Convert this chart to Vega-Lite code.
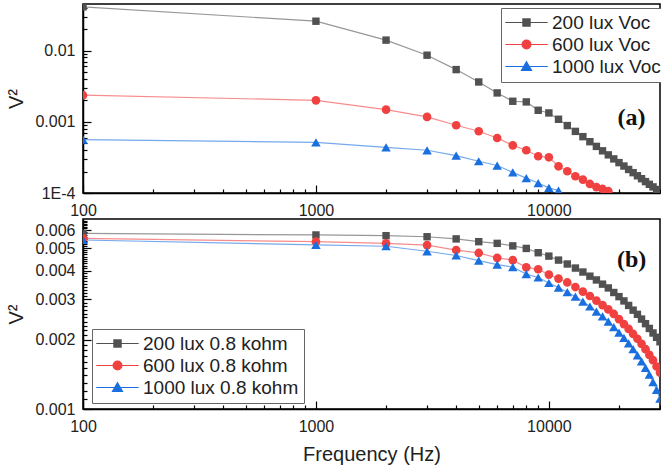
{
  "$schema": "https://vega.github.io/schema/vega-lite/v6.json",
  "padding": {"left": 6, "top": 3, "right": 0, "bottom": 0},
  "spacing": -3,
  "background": "white",
  "config": {
    "font": "Liberation Sans",
    "view": {"stroke": "black", "strokeWidth": 1.5},
    "axis": {
      "labelFont": "Liberation Sans", "labelColor": "#222",
      "titleFont": "Liberation Sans", "titleFontSize": 20, "titleFontWeight": "normal", "titleColor": "#222",
      "domainColor": "black", "domainWidth": 1.5, "tickColor": "black", "tickWidth": 1.2,
      "grid": false, "labelOverlap": false, "labelFlush": false
    },
    "legend": {
      "labelFont": "Liberation Sans", "labelFontSize": 19, "labelColor": "#222",
      "strokeColor": "#666", "fillColor": "white", "padding": 5, "rowPadding": 2,
      "symbolSize": 64, "symbolOffset": 11, "labelOffset": 16, "symbolOpacity": 1,
      "symbolStrokeWidth": 1.2
    }
  },
  "datasets": {
    "a": [
      {"f":100,"v":0.041,"s":"200 lux Voc"},{"f":1000,"v":0.0258,"s":"200 lux Voc"},{"f":2000,"v":0.0140,"s":"200 lux Voc"},{"f":3000,"v":0.0086,"s":"200 lux Voc"},{"f":4000,"v":0.0054,"s":"200 lux Voc"},{"f":5000,"v":0.00362,"s":"200 lux Voc"},{"f":6000,"v":0.00254,"s":"200 lux Voc"},{"f":7000,"v":0.00194,"s":"200 lux Voc"},{"f":8000,"v":0.00190,"s":"200 lux Voc"},{"f":9000,"v":0.00145,"s":"200 lux Voc"},{"f":10000,"v":0.00133,"s":"200 lux Voc"},{"f":11000,"v":0.001084,"s":"200 lux Voc"},{"f":12000,"v":0.000884,"s":"200 lux Voc"},{"f":13000,"v":0.000733,"s":"200 lux Voc"},{"f":14000,"v":0.000618,"s":"200 lux Voc"},{"f":15000,"v":0.000525,"s":"200 lux Voc"},{"f":16000,"v":0.000451,"s":"200 lux Voc"},{"f":17000,"v":0.000391,"s":"200 lux Voc"},{"f":18000,"v":0.000343,"s":"200 lux Voc"},{"f":19000,"v":0.000301,"s":"200 lux Voc"},{"f":20000,"v":0.000267,"s":"200 lux Voc"},{"f":21000,"v":0.000239,"s":"200 lux Voc"},{"f":22000,"v":0.000214,"s":"200 lux Voc"},{"f":23000,"v":0.000193,"s":"200 lux Voc"},{"f":24000,"v":0.0001745,"s":"200 lux Voc"},{"f":25000,"v":0.0001588,"s":"200 lux Voc"},{"f":26000,"v":0.0001445,"s":"200 lux Voc"},{"f":27000,"v":0.0001325,"s":"200 lux Voc"},{"f":28000,"v":0.0001218,"s":"200 lux Voc"},{"f":29000,"v":0.000112,"s":"200 lux Voc"},{"f":30000,"v":0.0001036,"s":"200 lux Voc"},
      {"f":100,"v":0.00236,"s":"600 lux Voc"},{"f":1000,"v":0.00200,"s":"600 lux Voc"},{"f":2000,"v":0.00148,"s":"600 lux Voc"},{"f":3000,"v":0.00117,"s":"600 lux Voc"},{"f":4000,"v":0.000893,"s":"600 lux Voc"},{"f":5000,"v":0.000736,"s":"600 lux Voc"},{"f":6000,"v":0.000592,"s":"600 lux Voc"},{"f":7000,"v":0.000467,"s":"600 lux Voc"},{"f":8000,"v":0.000398,"s":"600 lux Voc"},{"f":9000,"v":0.000328,"s":"600 lux Voc"},{"f":10000,"v":0.000317,"s":"600 lux Voc"},{"f":11000,"v":0.000237,"s":"600 lux Voc"},{"f":12000,"v":0.000202,"s":"600 lux Voc"},{"f":13000,"v":0.000172,"s":"600 lux Voc"},{"f":14000,"v":0.000154,"s":"600 lux Voc"},{"f":15000,"v":0.000134,"s":"600 lux Voc"},{"f":16000,"v":0.000121,"s":"600 lux Voc"},{"f":17000,"v":0.000114,"s":"600 lux Voc"},{"f":18000,"v":0.000106,"s":"600 lux Voc"},
      {"f":100,"v":0.000562,"s":"1000 lux Voc"},{"f":1000,"v":0.000515,"s":"1000 lux Voc"},{"f":2000,"v":0.000438,"s":"1000 lux Voc"},{"f":3000,"v":0.000398,"s":"1000 lux Voc"},{"f":4000,"v":0.000335,"s":"1000 lux Voc"},{"f":5000,"v":0.000279,"s":"1000 lux Voc"},{"f":6000,"v":0.000243,"s":"1000 lux Voc"},{"f":7000,"v":0.000195,"s":"1000 lux Voc"},{"f":8000,"v":0.000162,"s":"1000 lux Voc"},{"f":9000,"v":0.000138,"s":"1000 lux Voc"},{"f":10000,"v":0.000118,"s":"1000 lux Voc"},{"f":11000,"v":0.000108,"s":"1000 lux Voc"}
    ],
    "b": [
      {"f":100,"v":0.00580,"s":"200 lux 0.8 kohm"},{"f":1000,"v":0.00571,"s":"200 lux 0.8 kohm"},{"f":2000,"v":0.00567,"s":"200 lux 0.8 kohm"},{"f":3000,"v":0.00561,"s":"200 lux 0.8 kohm"},{"f":4000,"v":0.00549,"s":"200 lux 0.8 kohm"},{"f":5000,"v":0.00534,"s":"200 lux 0.8 kohm"},{"f":6000,"v":0.00525,"s":"200 lux 0.8 kohm"},{"f":7000,"v":0.00512,"s":"200 lux 0.8 kohm"},{"f":8000,"v":0.00499,"s":"200 lux 0.8 kohm"},{"f":9000,"v":0.00478,"s":"200 lux 0.8 kohm"},{"f":10000,"v":0.00462,"s":"200 lux 0.8 kohm"},{"f":11000,"v":0.00444,"s":"200 lux 0.8 kohm"},{"f":12000,"v":0.00427,"s":"200 lux 0.8 kohm"},{"f":13000,"v":0.00410,"s":"200 lux 0.8 kohm"},{"f":14000,"v":0.00394,"s":"200 lux 0.8 kohm"},{"f":15000,"v":0.00378,"s":"200 lux 0.8 kohm"},{"f":16000,"v":0.00364,"s":"200 lux 0.8 kohm"},{"f":17000,"v":0.00349,"s":"200 lux 0.8 kohm"},{"f":18000,"v":0.00336,"s":"200 lux 0.8 kohm"},{"f":19000,"v":0.00321,"s":"200 lux 0.8 kohm"},{"f":20000,"v":0.00308,"s":"200 lux 0.8 kohm"},{"f":21000,"v":0.00295,"s":"200 lux 0.8 kohm"},{"f":22000,"v":0.00282,"s":"200 lux 0.8 kohm"},{"f":23000,"v":0.00269,"s":"200 lux 0.8 kohm"},{"f":24000,"v":0.00258,"s":"200 lux 0.8 kohm"},{"f":25000,"v":0.00246,"s":"200 lux 0.8 kohm"},{"f":26000,"v":0.00235,"s":"200 lux 0.8 kohm"},{"f":27000,"v":0.00224,"s":"200 lux 0.8 kohm"},{"f":28000,"v":0.00214,"s":"200 lux 0.8 kohm"},{"f":29000,"v":0.00205,"s":"200 lux 0.8 kohm"},{"f":30000,"v":0.00196,"s":"200 lux 0.8 kohm"},
      {"f":100,"v":0.00552,"s":"600 lux 0.8 kohm"},{"f":1000,"v":0.00534,"s":"600 lux 0.8 kohm"},{"f":2000,"v":0.00525,"s":"600 lux 0.8 kohm"},{"f":3000,"v":0.00516,"s":"600 lux 0.8 kohm"},{"f":4000,"v":0.00491,"s":"600 lux 0.8 kohm"},{"f":5000,"v":0.00477,"s":"600 lux 0.8 kohm"},{"f":6000,"v":0.00454,"s":"600 lux 0.8 kohm"},{"f":7000,"v":0.00444,"s":"600 lux 0.8 kohm"},{"f":8000,"v":0.00413,"s":"600 lux 0.8 kohm"},{"f":9000,"v":0.00405,"s":"600 lux 0.8 kohm"},{"f":10000,"v":0.00384,"s":"600 lux 0.8 kohm"},{"f":11000,"v":0.00369,"s":"600 lux 0.8 kohm"},{"f":12000,"v":0.00355,"s":"600 lux 0.8 kohm"},{"f":13000,"v":0.00339,"s":"600 lux 0.8 kohm"},{"f":14000,"v":0.00324,"s":"600 lux 0.8 kohm"},{"f":15000,"v":0.00310,"s":"600 lux 0.8 kohm"},{"f":16000,"v":0.00296,"s":"600 lux 0.8 kohm"},{"f":17000,"v":0.00283,"s":"600 lux 0.8 kohm"},{"f":18000,"v":0.00271,"s":"600 lux 0.8 kohm"},{"f":19000,"v":0.00259,"s":"600 lux 0.8 kohm"},{"f":20000,"v":0.00246,"s":"600 lux 0.8 kohm"},{"f":21000,"v":0.00234,"s":"600 lux 0.8 kohm"},{"f":22000,"v":0.00223,"s":"600 lux 0.8 kohm"},{"f":23000,"v":0.00212,"s":"600 lux 0.8 kohm"},{"f":24000,"v":0.00202,"s":"600 lux 0.8 kohm"},{"f":25000,"v":0.00192,"s":"600 lux 0.8 kohm"},{"f":26000,"v":0.00182,"s":"600 lux 0.8 kohm"},{"f":27000,"v":0.00172,"s":"600 lux 0.8 kohm"},{"f":28000,"v":0.00163,"s":"600 lux 0.8 kohm"},{"f":29000,"v":0.00153,"s":"600 lux 0.8 kohm"},{"f":30000,"v":0.00144,"s":"600 lux 0.8 kohm"},
      {"f":100,"v":0.00543,"s":"1000 lux 0.8 kohm"},{"f":1000,"v":0.00517,"s":"1000 lux 0.8 kohm"},{"f":2000,"v":0.00510,"s":"1000 lux 0.8 kohm"},{"f":3000,"v":0.00485,"s":"1000 lux 0.8 kohm"},{"f":4000,"v":0.00465,"s":"1000 lux 0.8 kohm"},{"f":5000,"v":0.00442,"s":"1000 lux 0.8 kohm"},{"f":6000,"v":0.00424,"s":"1000 lux 0.8 kohm"},{"f":7000,"v":0.00414,"s":"1000 lux 0.8 kohm"},{"f":8000,"v":0.00386,"s":"1000 lux 0.8 kohm"},{"f":9000,"v":0.00373,"s":"1000 lux 0.8 kohm"},{"f":10000,"v":0.00353,"s":"1000 lux 0.8 kohm"},{"f":11000,"v":0.00337,"s":"1000 lux 0.8 kohm"},{"f":12000,"v":0.00322,"s":"1000 lux 0.8 kohm"},{"f":13000,"v":0.00308,"s":"1000 lux 0.8 kohm"},{"f":14000,"v":0.00293,"s":"1000 lux 0.8 kohm"},{"f":15000,"v":0.00279,"s":"1000 lux 0.8 kohm"},{"f":16000,"v":0.00265,"s":"1000 lux 0.8 kohm"},{"f":17000,"v":0.00253,"s":"1000 lux 0.8 kohm"},{"f":18000,"v":0.00240,"s":"1000 lux 0.8 kohm"},{"f":19000,"v":0.00227,"s":"1000 lux 0.8 kohm"},{"f":20000,"v":0.00215,"s":"1000 lux 0.8 kohm"},{"f":21000,"v":0.00204,"s":"1000 lux 0.8 kohm"},{"f":22000,"v":0.00193,"s":"1000 lux 0.8 kohm"},{"f":23000,"v":0.00182,"s":"1000 lux 0.8 kohm"},{"f":24000,"v":0.00171,"s":"1000 lux 0.8 kohm"},{"f":25000,"v":0.00161,"s":"1000 lux 0.8 kohm"},{"f":26000,"v":0.00151,"s":"1000 lux 0.8 kohm"},{"f":27000,"v":0.00141,"s":"1000 lux 0.8 kohm"},{"f":28000,"v":0.00131,"s":"1000 lux 0.8 kohm"},{"f":29000,"v":0.00121,"s":"1000 lux 0.8 kohm"},{"f":30000,"v":0.00111,"s":"1000 lux 0.8 kohm"}
    ]
  },
  "vconcat": [
    {
      "width": 577, "height": 189,
      "layer": [
        {"data": {"name": "a"},
         "mark": {"type": "line", "strokeWidth": 1.2, "opacity": 0.6, "clip": true},
         "encoding": {
           "x": {"field": "f", "type": "quantitative",
             "scale": {"type": "log", "domain": [100, 30000], "nice": false},
             "axis": {"title": null,
               "values": [100,200,300,400,500,600,700,800,900,1000,2000,3000,4000,5000,6000,7000,8000,9000,10000,20000,30000],
               "labelExpr": "datum.value==100?'100':datum.value==1000?'1000':datum.value==10000?'10000':''",
               "labelFontSize": {"condition": {"test": "datum.value==100||datum.value==1000||datum.value==10000", "value": 16}, "value": 0},
               "tickSize": {"condition": {"test": "datum.value==100||datum.value==1000||datum.value==10000", "value": -8}, "value": -4},
               "labelPadding": 17}},
           "y": {"field": "v", "type": "quantitative",
             "scale": {"type": "log", "domain": [0.0001, 0.045], "nice": false},
             "axis": {"title": "V²", "titlePadding": 8,
               "values": [0.0001,0.0002,0.0003,0.0004,0.0005,0.0006,0.0007,0.0008,0.0009,0.001,0.002,0.003,0.004,0.005,0.006,0.007,0.008,0.009,0.01,0.02,0.03,0.04],
               "labelExpr": "datum.value==0.0001?'1E-4':datum.value==0.001?'0.001':datum.value==0.01?'0.01':''",
               "labelFontSize": {"condition": {"test": "datum.value==0.0001||datum.value==0.001||datum.value==0.01", "value": 16}, "value": 0},
               "tickSize": {"condition": {"test": "datum.value==0.0001||datum.value==0.001||datum.value==0.01", "value": -8}, "value": -4},
               "labelPadding": 16}},
           "color": {"field": "s", "type": "nominal",
             "scale": {"domain": ["200 lux Voc", "600 lux Voc", "1000 lux Voc"], "range": ["#515151", "#F14040", "#1A6FDF"]},
             "legend": {"title": null, "orient": "none", "legendX": 418, "legendY": 4,
               "symbolType": {"expr": "indexof(datum.value,'200')==0?'M-5.3,0H5.3M-0.9,-0.9H0.9V0.9H-0.9Z':indexof(datum.value,'600')==0?'M-5.3,0H5.3M1.1,0A1.1,1.1,0,1,1,-1.1,0A1.1,1.1,0,1,1,1.1,0Z':'M-5.3,0H5.3M0,-1.2L1.25,0.95H-1.25Z'"},
               "symbolStrokeColor": {"expr": "indexof(datum.value,'200')==0?'#515151':indexof(datum.value,'600')==0?'#F14040':'#1A6FDF'"},
               "symbolFillColor": {"expr": "indexof(datum.value,'200')==0?'#515151':indexof(datum.value,'600')==0?'#F14040':'#1A6FDF'"}}}}},
        {"data": {"name": "a"}, "transform": [{"filter": "datum.s=='200 lux Voc'"}],
         "mark": {"type": "point", "shape": "square", "filled": true, "size": 55, "opacity": 1, "clip": true, "color": "#515151"},
         "encoding": {"x": {"field": "f", "type": "quantitative"}, "y": {"field": "v", "type": "quantitative"}}},
        {"data": {"name": "a"}, "transform": [{"filter": "datum.s=='600 lux Voc'"}],
         "mark": {"type": "point", "shape": "circle", "filled": true, "size": 75, "opacity": 1, "clip": true, "color": "#F14040"},
         "encoding": {"x": {"field": "f", "type": "quantitative"}, "y": {"field": "v", "type": "quantitative"}}},
        {"data": {"name": "a"}, "transform": [{"filter": "datum.s=='1000 lux Voc'"}],
         "mark": {"type": "point", "shape": "triangle-up", "filled": true, "size": 90, "opacity": 1, "clip": true, "color": "#1A6FDF"},
         "encoding": {"x": {"field": "f", "type": "quantitative"}, "y": {"field": "v", "type": "quantitative"}}},
        {"data": {"values": [{"t": "(a)"}]},
         "mark": {"type": "text", "font": "Liberation Serif", "fontWeight": "bold", "fontSize": 24, "fill": "#111", "align": "center", "baseline": "middle"},
         "encoding": {"x": {"datum": 22650, "type": "quantitative"}, "y": {"datum": 0.00112, "type": "quantitative"}, "text": {"field": "t"}}}
      ]
    },
    {
      "width": 577, "height": 190,
      "layer": [
        {"data": {"name": "b"},
         "mark": {"type": "line", "strokeWidth": 1.2, "opacity": 0.6, "clip": true},
         "encoding": {
           "x": {"field": "f", "type": "quantitative",
             "scale": {"type": "log", "domain": [100, 30000], "nice": false},
             "axis": {"title": "Frequency (Hz)", "titlePadding": 10,
               "values": [100,200,300,400,500,600,700,800,900,1000,2000,3000,4000,5000,6000,7000,8000,9000,10000,20000,30000],
               "labelExpr": "datum.value==100?'100':datum.value==1000?'1000':datum.value==10000?'10000':''",
               "labelFontSize": {"condition": {"test": "datum.value==100||datum.value==1000||datum.value==10000", "value": 16}, "value": 0},
               "tickSize": {"condition": {"test": "datum.value==100||datum.value==1000||datum.value==10000", "value": -8}, "value": -4},
               "labelPadding": 17}},
           "y": {"field": "v", "type": "quantitative",
             "scale": {"type": "log", "domain": [0.001, 0.0067], "nice": false},
             "axis": {"title": "V²", "titlePadding": 8,
               "values": [0.001,0.0011,0.0012,0.0013,0.0014,0.0015,0.0016,0.0017,0.0018,0.0019,0.002,0.0021,0.0022,0.0023,0.0024,0.0025,0.0026,0.0027,0.0028,0.0029,0.003,0.0031,0.0032,0.0033,0.0034,0.0035,0.0036,0.0037,0.0038,0.0039,0.004,0.0041,0.0042,0.0043,0.0044,0.0045,0.0046,0.0047,0.0048,0.0049,0.005,0.0051,0.0052,0.0053,0.0054,0.0055,0.0056,0.0057,0.0058,0.0059,0.006,0.0061,0.0062,0.0063,0.0064,0.0065,0.0066],
               "labelExpr": "datum.value==0.001?'0.001':datum.value==0.002?'0.002':datum.value==0.003?'0.003':datum.value==0.004?'0.004':datum.value==0.005?'0.005':datum.value==0.006?'0.006':''",
               "labelFontSize": {"condition": {"test": "datum.value==0.001||datum.value==0.002||datum.value==0.003||datum.value==0.004||datum.value==0.005||datum.value==0.006", "value": 16}, "value": 0},
               "tickSize": {"condition": {"test": "datum.value==0.001||datum.value==0.002||datum.value==0.003||datum.value==0.004||datum.value==0.005||datum.value==0.006", "value": -8}, "value": -4},
               "labelPadding": 16}},
           "color": {"field": "s", "type": "nominal",
             "scale": {"domain": ["200 lux 0.8 kohm", "600 lux 0.8 kohm", "1000 lux 0.8 kohm"], "range": ["#515151", "#F14040", "#1A6FDF"]},
             "legend": {"title": null, "orient": "none", "legendX": 9, "legendY": 110,
               "symbolType": {"expr": "indexof(datum.value,'200')==0?'M-5.3,0H5.3M-0.9,-0.9H0.9V0.9H-0.9Z':indexof(datum.value,'600')==0?'M-5.3,0H5.3M1.1,0A1.1,1.1,0,1,1,-1.1,0A1.1,1.1,0,1,1,1.1,0Z':'M-5.3,0H5.3M0,-1.2L1.25,0.95H-1.25Z'"},
               "symbolStrokeColor": {"expr": "indexof(datum.value,'200')==0?'#515151':indexof(datum.value,'600')==0?'#F14040':'#1A6FDF'"},
               "symbolFillColor": {"expr": "indexof(datum.value,'200')==0?'#515151':indexof(datum.value,'600')==0?'#F14040':'#1A6FDF'"}}}}},
        {"data": {"name": "b"}, "transform": [{"filter": "datum.s=='200 lux 0.8 kohm'"}],
         "mark": {"type": "point", "shape": "square", "filled": true, "size": 55, "opacity": 1, "clip": true, "color": "#515151"},
         "encoding": {"x": {"field": "f", "type": "quantitative"}, "y": {"field": "v", "type": "quantitative"}}},
        {"data": {"name": "b"}, "transform": [{"filter": "datum.s=='600 lux 0.8 kohm'"}],
         "mark": {"type": "point", "shape": "circle", "filled": true, "size": 75, "opacity": 1, "clip": true, "color": "#F14040"},
         "encoding": {"x": {"field": "f", "type": "quantitative"}, "y": {"field": "v", "type": "quantitative"}}},
        {"data": {"name": "b"}, "transform": [{"filter": "datum.s=='1000 lux 0.8 kohm'"}],
         "mark": {"type": "point", "shape": "triangle-up", "filled": true, "size": 90, "opacity": 1, "clip": true, "color": "#1A6FDF"},
         "encoding": {"x": {"field": "f", "type": "quantitative"}, "y": {"field": "v", "type": "quantitative"}}},
        {"data": {"values": [{"t": "(b)"}]},
         "mark": {"type": "text", "font": "Liberation Serif", "fontWeight": "bold", "fontSize": 24, "fill": "#111", "align": "center", "baseline": "middle"},
         "encoding": {"x": {"datum": 22650, "type": "quantitative"}, "y": {"datum": 0.00446, "type": "quantitative"}, "text": {"field": "t"}}}
      ]
    }
  ],
  "resolve": {
    "scale": {"x": "independent", "y": "independent", "color": "independent"},
    "legend": {"color": "independent"}
  }
}
